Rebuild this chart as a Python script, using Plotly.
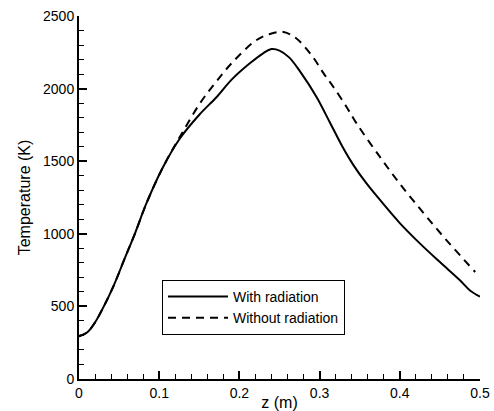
import plotly.graph_objects as go

z_with = [0.0, 0.01, 0.02, 0.03, 0.043, 0.057, 0.07, 0.084, 0.105, 0.126, 0.15, 0.172, 0.19, 0.213,
          0.23, 0.24, 0.25, 0.262, 0.276, 0.296, 0.313, 0.328, 0.342, 0.358, 0.375, 0.4, 0.425,
          0.45, 0.475, 0.4875, 0.5]
T_with = [295, 320, 390, 490, 640, 830, 1005, 1209, 1462, 1658, 1820, 1944, 2060, 2174,
          2245, 2272, 2262, 2215, 2115, 1944, 1765, 1605, 1475, 1350, 1235, 1074, 934,
          805, 680, 610, 568]

z_without = [0.0, 0.01, 0.02, 0.03, 0.043, 0.057, 0.07, 0.084, 0.105, 0.126, 0.151, 0.17, 0.192,
             0.2215, 0.24, 0.255, 0.27, 0.29, 0.305, 0.317, 0.334, 0.346, 0.375, 0.4, 0.43,
             0.46, 0.494]
T_without = [295, 320, 390, 490, 640, 830, 1005, 1209, 1462, 1670, 1900, 2040, 2185,
             2335, 2380, 2390, 2350, 2230, 2105, 2013, 1870, 1761, 1531, 1345, 1140,
             945, 737]

x_ticks = [0, 0.1, 0.2, 0.3, 0.4, 0.5]
x_labels = ["0", "0.1", "0.2", "0.3", "0.4", "0.5"]
y_ticks = [0, 500, 1000, 1500, 2000, 2500]
y_labels = ["0", "500", "1000", "1500", "2000", "2500"]

font = "Liberation Sans, Arial, sans-serif"

fig = go.Figure()
fig.add_trace(go.Scatter(x=z_with, y=T_with, mode="lines", name="With radiation",
                         line=dict(color="black", width=2, shape="spline", smoothing=1.0)))
fig.add_trace(go.Scatter(x=z_without, y=T_without, mode="lines", name="Without radiation",
                         line=dict(color="black", width=2, dash="8px,6px", shape="spline", smoothing=1.0)))

fig.update_xaxes(range=[0, 0.5], tickvals=x_ticks, ticktext=x_labels,
                 showgrid=False, zeroline=False, showline=True, linecolor="black", linewidth=2,
                 ticks="inside", tickcolor="black", tickwidth=2, ticklen=8,
                 tickfont=dict(family=font, size=14, color="black"),
                 minor=dict(dtick=0.02, ticks="inside", ticklen=5, tickcolor="black", tickwidth=1, showgrid=False),
                 title=dict(text="z (m)", font=dict(family=font, size=16, color="black"), standoff=0))
fig.update_yaxes(range=[0, 2500], tickvals=y_ticks, ticktext=y_labels,
                 showgrid=False, zeroline=False, showline=True, linecolor="black", linewidth=2,
                 ticks="inside", tickcolor="black", tickwidth=2, ticklen=8,
                 tickfont=dict(family=font, size=14, color="black"),
                 minor=dict(dtick=100, ticks="inside", ticklen=5, tickcolor="black", tickwidth=1, showgrid=False),
                 title=dict(text="Temperature (K)", font=dict(family=font, size=16, color="black"), standoff=8))

fig.update_layout(
    width=494, height=411,
    margin=dict(l=79, r=14, t=16, b=32, autoexpand=False),
    paper_bgcolor="white", plot_bgcolor="white",
    font=dict(family=font, color="black"),
    legend=dict(x=0.207, y=0.273, xanchor="left", yanchor="top",
                bgcolor="white", bordercolor="black", borderwidth=1,
                font=dict(family=font, size=14, color="black"),
                itemwidth=60, tracegroupgap=0),
)

fig.write_html("out.html")
